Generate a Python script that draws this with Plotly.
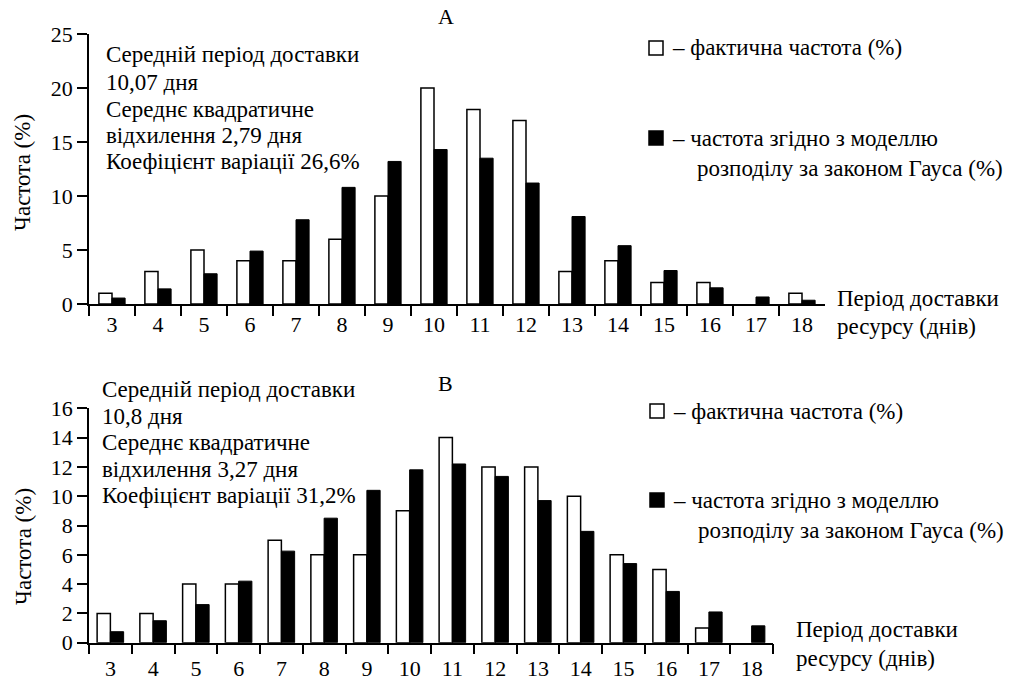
import plotly.graph_objects as go

W, H = 1023, 681

categories = [str(d) for d in range(3, 19)]

actual_a = [1, 3, 5, 4, 4, 6, 10, 20, 18, 17, 3, 4, 2, 2, 0, 1]
gauss_a = [0.55, 1.4, 2.8, 4.9, 7.8, 10.8, 13.2, 14.3, 13.5, 11.2, 8.1, 5.4, 3.1, 1.5, 0.65, 0.35]

actual_b = [2, 2, 4, 4, 7, 6, 6, 9, 14, 12, 12, 10, 6, 5, 1, 0]
gauss_b = [0.75, 1.5, 2.6, 4.2, 6.25, 8.5, 10.4, 11.8, 12.2, 11.35, 9.7, 7.6, 5.4, 3.5, 2.1, 1.15]

stats_a = ["Середній період доставки", "10,07 дня", "Середнє квадратичне",
           "відхилення 2,79 дня", "Коефіцієнт варіації 26,6%"]
stats_b = ["Середній період доставки", "10,8 дня", "Середнє квадратичне",
           "відхилення 3,27 дня", "Коефіцієнт варіації 31,2%"]

legend_actual = "– фактична частота (%)"
legend_gauss_1 = "– частота згідно з моделлю"
legend_gauss_2 = "розподілу за законом Гауса (%)"
x_title = ["Період доставки", "ресурсу (днів)"]
y_title = "Частота (%)"

FONT = "Liberation Serif"
TXT = 23


def px(x):
    return x / W


def py(y):
    return 1 - y / H


fig = go.Figure()

panels = [
    dict(xa="x", ya="y", actual=actual_a, gauss=gauss_a, w=0.285),
    dict(xa="x2", ya="y2", actual=actual_b, gauss=gauss_b, w=0.31),
]
for p in panels:
    fig.add_trace(go.Bar(x=categories, y=p["actual"], xaxis=p["xa"], yaxis=p["ya"],
                         width=p["w"], offset=-p["w"],
                         marker=dict(color="white",
                                     line=dict(color="black",
                                               width=[1.5 if v > 0 else 0 for v in p["actual"]])),
                         showlegend=False))
    fig.add_trace(go.Bar(x=categories, y=p["gauss"], xaxis=p["xa"], yaxis=p["ya"],
                         width=p["w"], offset=0,
                         marker=dict(color="black", line=dict(color="black", width=1)),
                         showlegend=False))

xcommon = dict(type="category", tickson="boundaries", ticks="outside", ticklen=10,
               tickwidth=1.5, tickcolor="black", showline=True, linecolor="black",
               linewidth=1.5, showgrid=False, zeroline=False, fixedrange=True,
               automargin=False,
               tickfont=dict(family=FONT, size=22, color="black"),
               range=[-0.5, 15.5])
ycommon = dict(ticks="outside", ticklen=10, tickwidth=1.5, tickcolor="black",
               showline=True, linecolor="black", linewidth=1.5, showgrid=False,
               zeroline=False, fixedrange=True, automargin=False,
               tickfont=dict(family=FONT, size=22, color="black"))

fig.update_layout(
    template="none",
    width=W, height=H, autosize=False,
    margin=dict(l=0, r=0, t=0, b=0, pad=0),
    paper_bgcolor="white", plot_bgcolor="white",
    barmode="overlay",
    showlegend=False,
    font=dict(family=FONT, color="black"),
    xaxis=dict(xcommon, domain=[px(89), px(825)], anchor="y"),
    yaxis=dict(ycommon, domain=[py(304), py(34)], range=[0, 25], dtick=5, anchor="x"),
    xaxis2=dict(xcommon, domain=[px(89), px(773)], anchor="y2", ticklabelstandoff=5),
    yaxis2=dict(ycommon, domain=[py(642.7), py(408.3)], range=[0, 16], dtick=2, anchor="x2"),
)

ann = []


def text(x, y, s, size=TXT, xanchor="left", angle=0):
    ann.append(dict(x=px(x), y=py(y), xref="paper", yref="paper", text=s,
                    showarrow=False, xanchor=xanchor, yanchor="middle",
                    textangle=angle, borderpad=0,
                    font=dict(family=FONT, size=size, color="black")))


# panel titles
text(446, 17, "A", xanchor="center", size=22)
text(445, 383, "B", xanchor="center", size=22)

# stats blocks
for s, y in zip(stats_a, [55, 82, 109, 135, 162]):
    text(105, y, s)
for s, y in zip(stats_b, [389, 416, 443, 469, 495]):
    text(101, y, s)

# legends
text(671, 48, legend_actual)
text(671, 138, legend_gauss_1)
text(696, 168, legend_gauss_2)
text(672, 411, legend_actual)
text(672, 500, legend_gauss_1)
text(697, 530, legend_gauss_2)

# x titles
text(836, 298, x_title[0])
text(836, 327, x_title[1])
text(795, 629, x_title[0])
text(795, 658, x_title[1])

# y titles
text(23, 173, y_title, xanchor="center", angle=-90)
text(23, 547, y_title, xanchor="center", angle=-90)

fig.update_layout(annotations=ann)

shapes = []
for (x0, y0, fill) in [(649, 41, "white"), (649, 131, "black"),
                       (650, 404, "white"), (650, 493, "black")]:
    shapes.append(dict(type="rect", xref="paper", yref="paper",
                       x0=px(x0), x1=px(x0 + 14), y0=py(y0 + 14), y1=py(y0),
                       fillcolor=fill, line=dict(color="black", width=1.5)))
fig.update_layout(shapes=shapes)

fig.write_html("out.html", config={"displayModeBar": False},
               post_script="document.body.style.margin='0';document.body.style.overflow='hidden';")
